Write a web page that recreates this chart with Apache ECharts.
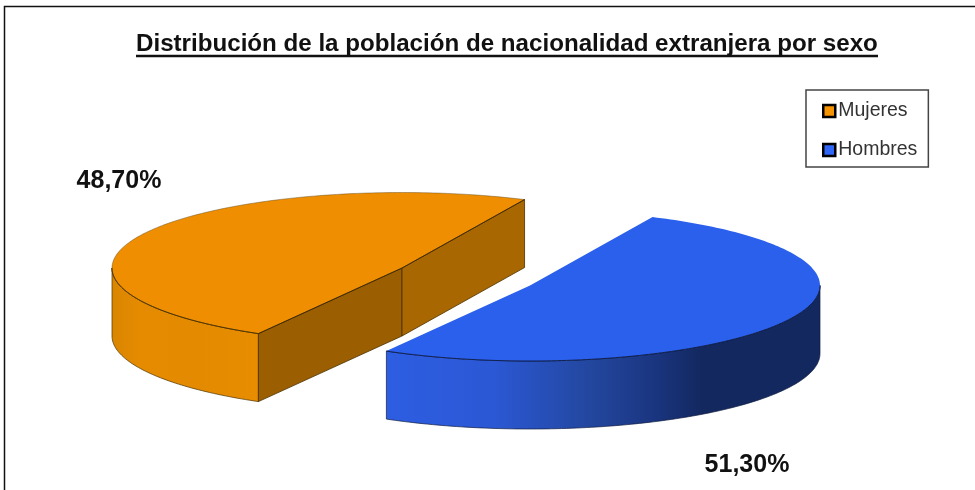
<!DOCTYPE html>
<html>
<head>
<meta charset="utf-8">
<style>html,body{margin:0;padding:0;background:#fff}#c{width:975px;height:490px}</style>
<script src="https://cdn.jsdelivr.net/npm/echarts@6/dist/echarts.min.js"></script>
</head>
<body>
<div id="c"></div>
<script>
var categories = ['Mujeres', 'Hombres'];
var values = [48.70, 51.30];
var titleText = 'Distribución de la población de nacionalidad extranjera por sexo';

var total = values[0] + values[1];
var START = -65;
var A = 290, B = 75.5, DEPTH = 68;
var G = echarts.graphic;

function hGrad(x0, x1, stops) {
  return new G.LinearGradient(x0, 0, x1, 0, stops.map(function (s) {
    return { offset: s[0], color: s[1] };
  }), true);
}
function pt(c, deg, dy) {
  var r = deg * Math.PI / 180;
  return [c[0] + A * Math.cos(r), c[1] + B * Math.sin(r) + (dy || 0)];
}
function arc(c, from, to, dy) {
  var out = [], n = Math.max(2, Math.ceil(Math.abs(to - from)));
  for (var i = 0; i <= n; i++) out.push(pt(c, from + (to - from) * i / n, dy));
  return out;
}
function poly(points, fill, stroke, lw) {
  return { type: 'polygon', shape: { points: points }, style: { fill: fill, stroke: stroke || null, lineWidth: lw || 0 } };
}
function line(points, stroke, lw) {
  return { type: 'polyline', shape: { points: points }, style: { fill: null, stroke: stroke, lineWidth: lw } };
}
function label(v, x, y) {
  return { type: 'text', style: {
    text: v.toFixed(2).replace('.', ',') + '%', x: x, y: y,
    fill: '#111', font: 'bold 25px "Liberation Sans", Arial, sans-serif',
    textAlign: 'center', textVerticalAlign: 'middle'
  } };
}

function renderOrange(params, api) {
  var v = api.value(0), c = [402, 268];
  var sweep = v / total * 360, a1 = START - sweep, a2 = START;
  var p1 = pt(c, a2), p2 = pt(c, a1);
  var wallTop = arc(c, 180, a1 + 360);
  var wallBot = arc(c, a1 + 360, 180, DEPTH);
  var edge = '#4a3000';
  return { type: 'group', children: [
    poly(wallTop.concat(wallBot), hGrad(112, 258, [[0, '#d98600'], [0.2, '#e68b00'], [0.6, '#e38a00'], [1, '#e88d00']]), edge, 0.7),
    poly([c, p2, [p2[0], p2[1] + DEPTH], [c[0], c[1] + DEPTH]], '#9b5e00', edge, 0.8),
    poly([c, p1, [p1[0], p1[1] + DEPTH], [c[0], c[1] + DEPTH]], '#a86700', edge, 0.8),
    poly([c].concat(arc(c, a1, a2)), '#ee8e00', 'rgba(90,70,30,0.55)', 0.8),
    line([p2, c, p1], '#3a2500', 0.9),
    line(arc(c, 180, a1 + 360), '#4a3000', 0.9),
    label(v, 119, 181.5)
  ] };
}
function renderBlue(params, api) {
  var v = api.value(0), c = [530, 285.5];
  var sweep = v / total * 360, a1 = START, a2 = START + sweep;
  var wallTop = arc(c, 0, a2);
  var wallBot = arc(c, a2, 0, DEPTH);
  return { type: 'group', children: [
    poly(wallTop.concat(wallBot), hGrad(385, 820, [[0, '#2d5de2'], [0.25, '#2b58d4'], [0.47, '#23479f'], [0.62, '#1a3580'], [0.73, '#13285f'], [1, '#13285f']]), '#101c40', 0.7),
    poly([c].concat(arc(c, a1, a2)), '#2b60ec', null, 0),
    line(arc(c, 0, a2), '#0c1a44', 0.9),
    label(v, 747, 465.5)
  ] };
}

var chart = echarts.init(document.getElementById('c'));
chart.setOption({
  animation: false,
  backgroundColor: '#fff',
  title: {
    text: titleText, left: 136, top: 32, padding: 0,
    textStyle: { fontFamily: '"Liberation Sans", Arial, sans-serif', fontWeight: 'bold', fontSize: 24.15, color: '#111' }
  },
  legend: {
    orient: 'vertical', left: 806, top: 90,
    padding: [11, 11, 7, 16], itemGap: 19, itemWidth: 12, itemHeight: 12,
    backgroundColor: '#fff', borderColor: '#444', borderWidth: 1.5, selectedMode: false,
    data: categories.map(function (n) { return { name: n, icon: 'rect' }; }),
    itemStyle: { borderColor: '#000', borderWidth: 2.5 },
    textStyle: { fontFamily: '"Liberation Sans", Arial, sans-serif', fontSize: 19.5, color: '#333', padding: [0, 0, 0, -2] }
  },
  graphic: [
    { type: 'polyline', silent: true, shape: { points: [[4.5, 490], [4.5, 6.5], [975, 6.5]] }, style: { fill: null, stroke: '#111', lineWidth: 1.5 } },
    { type: 'line', silent: true, shape: { x1: 136, y1: 56, x2: 878, y2: 56 }, style: { stroke: '#111', lineWidth: 2.5 } }
  ],
  series: [
    { type: 'custom', name: categories[0], coordinateSystem: 'none', itemStyle: { color: '#f59300' }, data: [[values[0]]], renderItem: renderOrange, silent: true },
    { type: 'custom', name: categories[1], coordinateSystem: 'none', itemStyle: { color: '#2f66f5' }, data: [[values[1]]], renderItem: renderBlue, silent: true }
  ]
});
</script>
</body>
</html>
